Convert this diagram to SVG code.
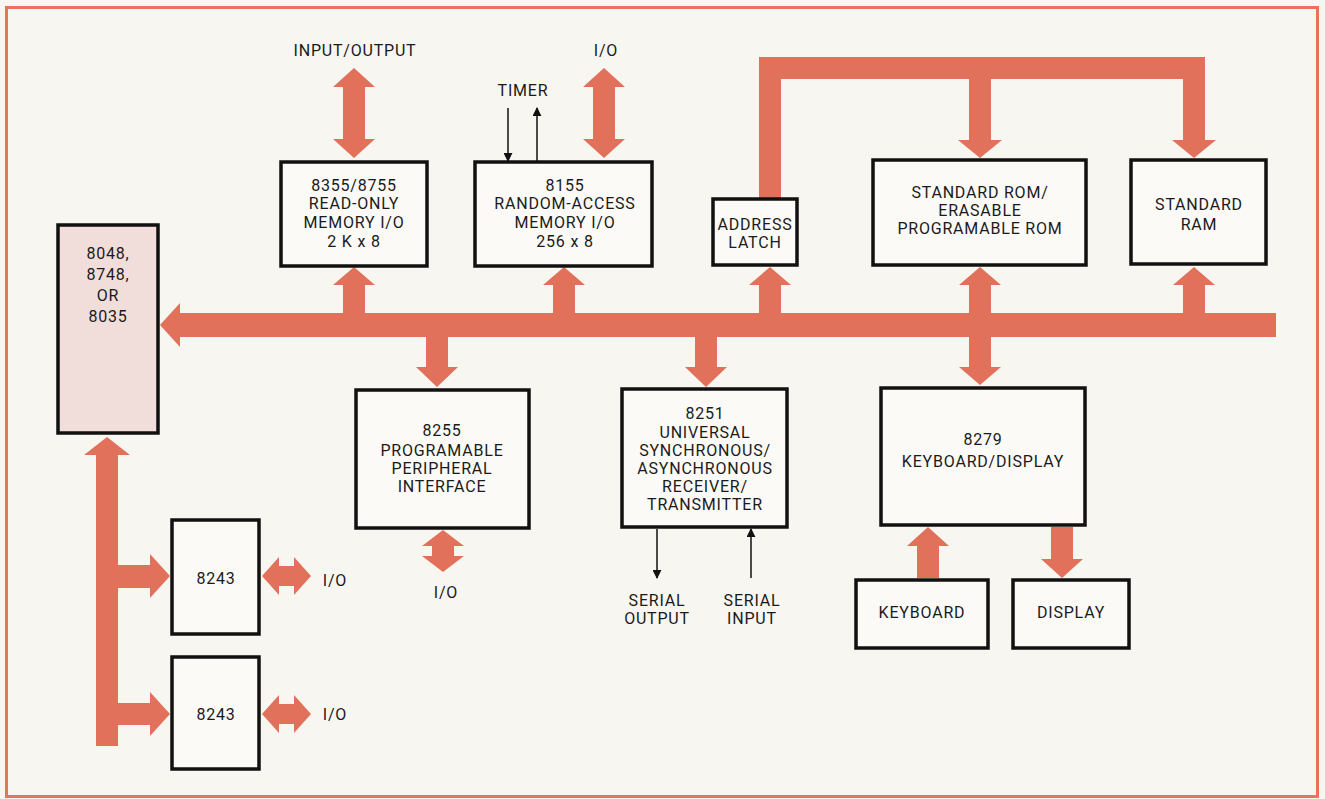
<svg xmlns="http://www.w3.org/2000/svg" width="1325" height="799" viewBox="0 0 1325 799">
<style>
.box{fill:#fbfaf7;stroke:#111;stroke-width:3.5}
.cpu{fill:#f1dedb;stroke:#111;stroke-width:3.5}
.bus{fill:#e2715b}
.thin{stroke:#111;stroke-width:1.5;fill:none}
text{font-family:"Liberation Sans Narrow","Roboto","Liberation Sans",sans-serif;font-size:16px;fill:#1a1a1a;text-anchor:middle;letter-spacing:0.8px}
</style>
<defs>
<marker id="ah" viewBox="0 0 10 10" refX="9" refY="5" markerWidth="9" markerHeight="9" markerUnits="userSpaceOnUse" orient="auto"><path d="M0,0 L10,5 L0,10 z" fill="#111"/></marker>
</defs>
<rect x="0" y="0" width="1325" height="799" fill="#f8f6f1"/>
<rect x="6.5" y="7.5" width="1311" height="789" fill="none" stroke="#e8735a" stroke-width="3"/>

<g id="connectors">
<path class="bus" d="M1276,313 L180,313 L180,303 L160,325 L180,347 L180,337 L1276,337 Z"/>
<path class="bus" d="M343,314 L343,285 L333,285 L354,267 L375,285 L365,285 L365,314 Z"/>
<path class="bus" d="M354,68 L375,87 L365,87 L365,139 L375,139 L354,158 L333,139 L343,139 L343,87 L333,87 Z"/>
<path class="bus" d="M553,314 L553,285 L543,285 L564,267 L585,285 L575,285 L575,314 Z"/>
<path class="bus" d="M604,68 L625,87 L615,87 L615,139 L625,139 L604,158 L583,139 L593,139 L593,87 L583,87 Z"/>
<line class="thin" x1="508" y1="108" x2="508" y2="161" marker-end="url(#ah)"/>
<line class="thin" x1="537" y1="161" x2="537" y2="108" marker-end="url(#ah)"/>
<path class="bus" d="M759,314 L759,285 L749,285 L770,267 L791,285 L781,285 L781,314 Z"/>
<path class="bus" d="M759,199 L759,57 L1205,57 L1205,140 L1216,140 L1194,158 L1172,140 L1183,140 L1183,79 L991,79 L991,140 L1002,140 L980,158 L958,140 L969,140 L969,79 L781,79 L781,199 Z"/>
<path class="bus" d="M1183,314 L1183,285 L1173,285 L1194,267 L1215,285 L1205,285 L1205,314 Z"/>
<path class="bus" d="M980,267 L1001,285 L991,285 L991,367 L1001,367 L980,385 L959,367 L969,367 L969,285 L959,285 Z"/>
<path class="bus" d="M426,337 L426,367 L416,367 L437,387 L458,367 L448,367 L448,337 Z"/>
<path class="bus" d="M695,337 L695,367 L685,367 L706,387 L727,367 L717,367 L717,337 Z"/>
<path class="bus" d="M443,530 L464,546 L454,546 L454,556 L464,556 L443,572 L422,556 L432,556 L432,546 L422,546 Z"/>
<line class="thin" x1="657" y1="529" x2="657" y2="578" marker-end="url(#ah)"/>
<line class="thin" x1="751" y1="578" x2="751" y2="529" marker-end="url(#ah)"/>
<path class="bus" d="M917,578 L917,546 L907,546 L928,527 L949,546 L939,546 L939,578 Z"/>
<path class="bus" d="M1051,527 L1051,559 L1041,559 L1062,578 L1083,559 L1073,559 L1073,527 Z"/>
<path class="bus" d="M107,437 L130,455 L118,455 L118,565 L150,565 L150,554 L170,576 L150,598 L150,588 L118,588 L118,703 L150,703 L150,692 L170,714 L150,736 L150,725 L118,725 L118,746 L96,746 L96,455 L84,455 Z"/>
<path class="bus" d="M262,576 L279,557 L279,566 L294,566 L294,557 L311,576 L294,595 L294,586 L279,586 L279,595 Z"/>
<path class="bus" d="M262,714 L279,695 L279,704 L294,704 L294,695 L311,714 L294,733 L294,724 L279,724 L279,733 Z"/>
</g>

<g id="cpu">
<rect class="cpu" x="58" y="225" width="100" height="208"/>
<text x="108" y="259">8048,</text>
<text x="108" y="280">8748,</text>
<text x="108" y="301" letter-spacing="3">OR</text>
<text x="108" y="322">8035</text>
</g>

<g id="n8355">
<rect class="box" x="281" y="162" width="146" height="104"/>
<text x="354" y="191">8355/8755</text>
<text x="354" y="209">READ-ONLY</text>
<text x="354" y="228">MEMORY I/O</text>
<text x="354" y="247">2 K x 8</text>
</g>
<text x="355" y="56">INPUT/OUTPUT</text>

<g id="n8155">
<rect class="box" x="475" y="162" width="177" height="104"/>
<text x="565" y="191">8155</text>
<text x="565" y="209">RANDOM-ACCESS</text>
<text x="565" y="228">MEMORY I/O</text>
<text x="565" y="247">256 x 8</text>
</g>
<text x="606" y="56">I/O</text>
<text x="523" y="96">TIMER</text>

<g id="latch">
<rect class="box" x="713" y="199" width="84" height="66"/>
<text x="755" y="230">ADDRESS</text>
<text x="755" y="248">LATCH</text>
</g>

<g id="rom">
<rect class="box" x="873" y="160" width="213" height="105"/>
<text x="980" y="198">STANDARD ROM/</text>
<text x="980" y="216">ERASABLE</text>
<text x="980" y="234">PROGRAMABLE ROM</text>
</g>

<g id="ram">
<rect class="box" x="1131" y="160" width="135" height="104"/>
<text x="1199" y="210">STANDARD</text>
<text x="1199" y="230">RAM</text>
</g>

<g id="n8255">
<rect class="box" x="356" y="390" width="173" height="138"/>
<text x="442" y="436">8255</text>
<text x="442" y="456">PROGRAMABLE</text>
<text x="442" y="474">PERIPHERAL</text>
<text x="442" y="492">INTERFACE</text>
</g>
<text x="446" y="598">I/O</text>

<g id="n8251">
<rect class="box" x="622" y="389" width="165" height="138"/>
<text x="705" y="419">8251</text>
<text x="705" y="438">UNIVERSAL</text>
<text x="705" y="456">SYNCHRONOUS/</text>
<text x="705" y="474">ASYNCHRONOUS</text>
<text x="705" y="492">RECEIVER/</text>
<text x="705" y="510">TRANSMITTER</text>
</g>
<text x="657" y="606">SERIAL</text>
<text x="657" y="624">OUTPUT</text>
<text x="752" y="606">SERIAL</text>
<text x="752" y="624">INPUT</text>

<g id="n8279">
<rect class="box" x="881" y="388" width="204" height="137"/>
<text x="983" y="445">8279</text>
<text x="983" y="467">KEYBOARD/DISPLAY</text>
</g>

<g id="keyboard">
<rect class="box" x="856" y="580" width="132" height="68"/>
<text x="922" y="618">KEYBOARD</text>
</g>

<g id="display">
<rect class="box" x="1013" y="580" width="116" height="68"/>
<text x="1071" y="618">DISPLAY</text>
</g>

<g id="n8243a">
<rect class="box" x="172" y="520" width="87" height="114"/>
<text x="216" y="584">8243</text>
</g>
<text x="335" y="586">I/O</text>

<g id="n8243b">
<rect class="box" x="172" y="657" width="87" height="112"/>
<text x="216" y="720">8243</text>
</g>
<text x="335" y="720">I/O</text>
</svg>
